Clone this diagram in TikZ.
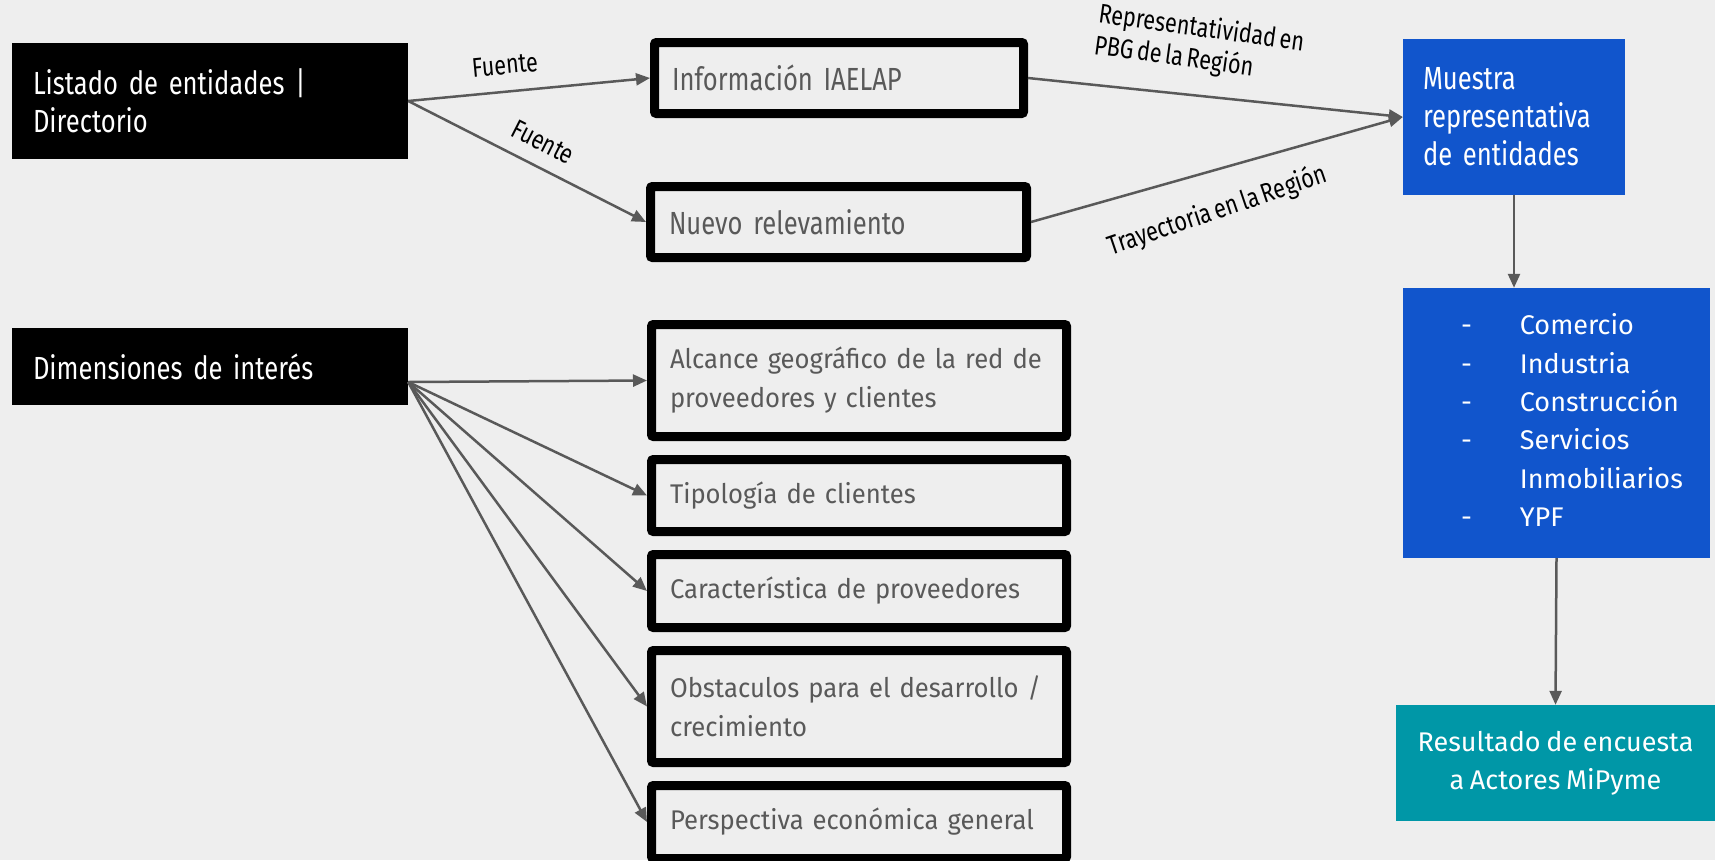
\documentclass[tikz,border=0pt]{standalone}
\usepackage{fontspec}
\setmainfont[WordSpace=0.8]{Fira Sans}
\newfontfamily\narrowfont[FakeStretch=0.8, WordSpace=0.65]{Fira Sans}
\newfontfamily\dimfont[FakeStretch=0.95, WordSpace=0.75]{Fira Sans}
\usetikzlibrary{positioning,arrows.meta}
\definecolor{fondo}{HTML}{EEEEEE}
\definecolor{gris}{HTML}{595959}
\definecolor{azul}{HTML}{1155CC}
\definecolor{turquesa}{HTML}{0097A7}

\begin{document}
\begin{tikzpicture}
	[x=1pt, y=-1pt,
	negro/.style={fill=black, text=white, inner sep=0pt, align=left,
		font=\narrowfont\fontsize{32}{38}\selectfont},
	marco/.style={draw=black, line width=9pt, rounded corners=2pt, text=gris,
		inner sep=0pt, align=left},
	fuente/.style={marco, minimum width=369pt, minimum height=71pt, text width=334pt,
		font=\narrowfont\fontsize{32}{38}\selectfont},
	dimension/.style={marco, minimum width=415pt, text width=378pt,
		font=\dimfont\fontsize{27}{39}\selectfont},
	bloque/.style={text=white, inner sep=0pt},
	flecha/.style={draw=gris, line width=2.5pt, -{Triangle[length=14pt,width=12pt]}},
	etiqueta/.style={inner sep=0pt, font=\narrowfont\fontsize{27}{32}\selectfont}]
	\fill[fondo] (0,0) rectangle (1715,860);
	\useasboundingbox (0,0) rectangle (1715,860);
	\node[negro, minimum width=396pt, minimum height=116pt, text width=354pt] (listado) at (210,101)
		{Listado de entidades |\\Directorio};
	\node[negro, minimum width=396pt, minimum height=77pt, text width=354pt] (dimensiones) at (210,366.5)
		{Dimensiones de interés};
	\node[fuente] (info) at (839,78) {Información IAELAP};
	\node[fuente, minimum width=376pt, text width=339pt] (nuevo) at (838.5,222) {Nuevo relevamiento};
	\node[dimension, minimum height=112pt] (alcance) at (859,380.5)
		{\mbox{Alcance geográfico de la red de}\\\mbox{proveedores y clientes}};
	\node[dimension, minimum height=72pt, below=14pt of alcance] (tipologia) {\mbox{Tipología de clientes}};
	\node[dimension, minimum height=73pt, below=14pt of tipologia] (caracteristica) {\mbox{Característica de proveedores}};
	\node[dimension, minimum height=112pt, below=14pt of caracteristica] (obstaculos)
		{\mbox{Obstaculos para el desarrollo /}\\\mbox{crecimiento}};
	\node[dimension, minimum height=73pt, below=14pt of obstaculos] (perspectiva) {\mbox{Perspectiva económica general}};
	\node[bloque, fill=azul, minimum width=222pt, minimum height=156pt, text width=182pt, align=left,
		font=\narrowfont\fontsize{32}{38}\selectfont] (muestra) at (1514,117)
		{Muestra\\\mbox{representativa}\\de entidades};
	\node[bloque, fill=azul, minimum width=307pt, minimum height=270pt, text width=191pt,
		font=\fontsize{27}{38.4}\selectfont] (sectores) at (1556.5,423)
		{\begin{tabular}{@{}l@{\hspace{48pt}}l@{}}
			- & Comercio\\
			- & Industria\\
			- & Construcción\\
			- & Servicios\\
			 & Inmobiliarios\\
			- & YPF
		\end{tabular}};
	\node[bloque, fill=turquesa, minimum width=319pt, minimum height=116pt, align=center,
		font=\fontsize{27}{38}\selectfont] (resultado) at (1555.5,763)
		{Resultado de encuesta\\a Actores MiPyme};
	\draw[flecha] (listado.east) -- node[etiqueta, sloped, above=16pt, pos=0.41] {Fuente} (info.west);
	\draw[flecha] (listado.east) -- node[etiqueta, sloped, above=14pt, pos=0.52] {Fuente} (nuevo.west);
	\draw[flecha] (info.east) -- node[etiqueta, sloped, rotate=-2, above=20pt, pos=0.44, align=left]
		{Representatividad en\\PBG de la Región} (muestra.west);
	\draw[flecha] (nuevo.east) -- node[etiqueta, sloped, rotate=3, below=25pt, pos=0.47] {Trayectoria en la Región} (muestra.west);
	\draw[flecha] (muestra.south) -- (muestra.south |- sectores.north);
	\draw[flecha] (sectores.south) -- (resultado.north);
	\coordinate (salida) at ([yshift=-15.5pt]dimensiones.east);
	\foreach \destino in {alcance,tipologia,caracteristica,obstaculos,perspectiva}
		\draw[flecha] (salida) -- (\destino.west);
\end{tikzpicture}
\end{document}
